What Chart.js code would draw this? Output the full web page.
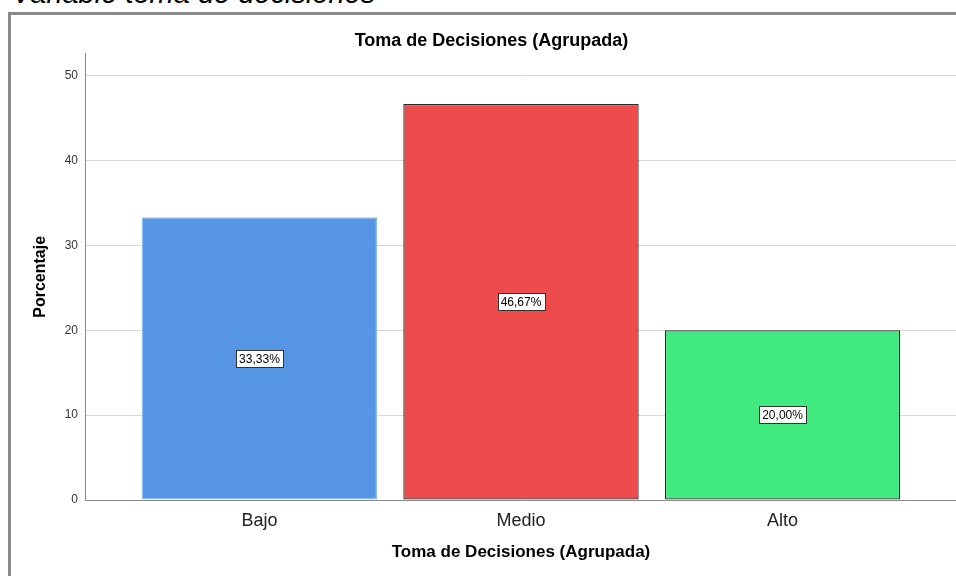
<!DOCTYPE html>
<html>
<head>
<meta charset="utf-8">
<script src="https://cdn.jsdelivr.net/npm/chart.js@4/dist/chart.umd.min.js"></script>
<style>
  body { margin: 0; overflow: hidden; background: #fff; width: 956px; height: 576px; position: relative; }
  #cap { position: absolute; left: 12px; top: -21px; font: italic 29px/29px Arial, "Liberation Sans", sans-serif; color: #000; white-space: nowrap; }
  #frame { position: absolute; left: 8px; top: 12px; width: 972px; height: 600px; border: 3px solid #8a8a8a; }
  #frame canvas { position: absolute; left: 0; top: 0; }
</style>
</head>
<body>
<div id="cap">Variable toma de decisiones</div>
<div id="frame"><canvas id="chart" width="972" height="561"></canvas></div>
<script>
const categories = ['Bajo', 'Medio', 'Alto']
const percentages = [33.33, 46.67, 20.00]
const valueLabels = ['33,33%', '46,67%', '20,00%']
const yTicks = [0, 10, 20, 30, 40, 50]
const barColors = ['#5595e3', '#ee4b4d', '#40ea80']
const barBorders = ['#8cb8ee', '#2a2a2a', '#2a2a2a']

const font = 'Arial, "Liberation Sans", sans-serif'

// white boxed percentage in the middle of each bar
const boxLabels = {
  id: 'boxLabels',
  afterDatasetsDraw(chart) {
    const ctx = chart.ctx
    const meta = chart.getDatasetMeta(0)
    ctx.save()
    ctx.font = '12px ' + font
    ctx.textAlign = 'center'
    ctx.textBaseline = 'middle'
    meta.data.forEach((bar, i) => {
      const cx = bar.x
      const cy = (bar.y + bar.base) / 2
      const w = Math.round(ctx.measureText(valueLabels[i]).width + 6)
      const h = 17
      const x0 = Math.round(cx - w / 2) + 0.5
      const y0 = Math.round(cy - h / 2) + 0.5
      ctx.fillStyle = '#fff'
      ctx.fillRect(x0, y0, w, h)
      ctx.strokeStyle = '#333'
      ctx.lineWidth = 1
      ctx.strokeRect(x0, y0, w, h)
      ctx.fillStyle = '#000'
      ctx.fillText(valueLabels[i], cx, cy + 1)
    })
    ctx.restore()
  }
}

new Chart('chart', {
  type: 'bar',
  data: {
    datasets: [{
      data: percentages.map((v, i) => ({ x: i + 1, y: v })),
      backgroundColor: barColors,
      borderColor: barBorders,
      borderWidth: 1.3,
      borderSkipped: false,
      categoryPercentage: 1,
      barPercentage: 0.9,
    }]
  },
  options: {
    responsive: false,
    animation: false,
    layout: { padding: { left: 15, right: 26, top: 0, bottom: 0 } },
    plugins: {
      legend: { display: false },
      tooltip: { enabled: false },
      title: {
        display: true,
        text: 'Toma de Decisiones (Agrupada)',
        color: '#000',
        font: { family: font, size: 18, weight: 'bold' },
        padding: { top: 15, bottom: 2 },
      },
    },
    scales: {
      x: {
        type: 'linear',
        offset: false,
        min: 1 - 0.667,
        max: 3.667,
        afterBuildTicks: scale => { scale.ticks = categories.map((_, i) => ({ value: i + 1 })) },
        afterFit: scale => { scale.height = 76 },
        grid: { display: false, offset: false },
        border: { display: true, color: '#888', width: 1 },
        ticks: {
          callback: v => categories[v - 1],
          color: '#222',
          font: { family: font, size: 18 },
          padding: 2,
          maxRotation: 0,
        },
        title: {
          display: true,
          text: 'Toma de Decisiones (Agrupada)',
          color: '#000',
          font: { family: font, size: 17, weight: 'bold' },
          padding: { top: 0, bottom: 13 },
        },
      },
      y: {
        min: 0,
        max: 52.6,
        afterBuildTicks: scale => { scale.ticks = yTicks.map(v => ({ value: v })) },
        afterFit: scale => { scale.width = 59 },
        grid: { color: '#d9d9d9', drawTicks: false },
        border: { display: true, color: '#888', width: 1 },
        ticks: {
          color: '#333',
          font: { family: font, size: 12 },
          padding: 7,
        },
        title: {
          display: true,
          text: 'Porcentaje',
          color: '#000',
          font: { family: font, size: 16, weight: 'bold' },
          padding: { top: 5, bottom: 4 },
        },
      },
    },
  },
  plugins: [boxLabels],
})
</script>
</body>
</html>
